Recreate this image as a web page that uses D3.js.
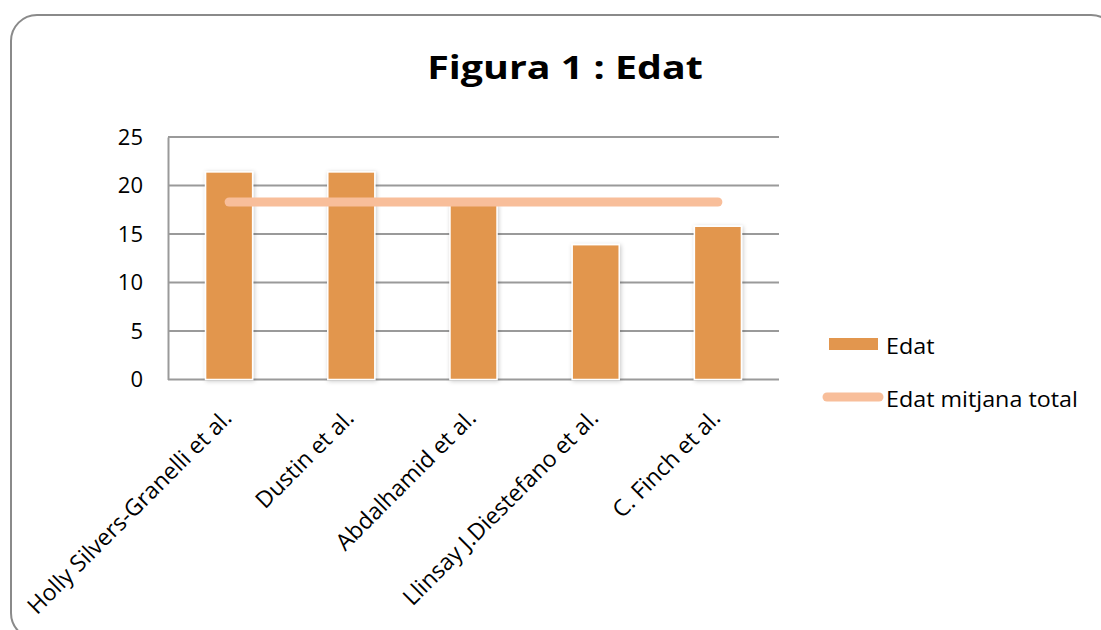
<!DOCTYPE html>
<html>
<head>
<meta charset="utf-8">
<script src="https://cdn.jsdelivr.net/npm/d3@7"></script>
<style>
  html, body { margin: 0; padding: 0; background: #fff; }
  svg { display: block; }
  text { font-family: "Open Sans", Lato, sans-serif; fill: #000; }
</style>
</head>
<body>
<svg id="chart" width="1101" height="630"></svg>
<script>
// Studies and their mean ages
const categories = [
  "Holly Silvers-Granelli et al.",
  "Dustin et al.",
  "Abdalhamid et al.",
  "Llinsay J.Diestefano et al.",
  "C. Finch et al."
];
const edat = [21.4, 21.4, 18.0, 13.9, 15.8];
const edatMitjana = [18.3, 18.3, 18.3, 18.3, 18.3];
const yTicks = [0, 5, 10, 15, 20, 25];
const seriesNames = ["Edat", "Edat mitjana total"];
const title = "Figura 1 : Edat";

const barColor = "#E2964E";
const lineColor = "#F8BE9A";
const gridColor = "#9a9a9a";
const fontFamily = "'Open Sans', Lato, sans-serif";

const svg = d3.select("#chart");

// Outer frame with rounded corners
svg.append("rect")
  .attr("x", 11).attr("y", 15)
  .attr("width", 1106).attr("height", 624)
  .attr("rx", 26).attr("ry", 26)
  .attr("fill", "#fff")
  .attr("stroke", "#8a8a8a")
  .attr("stroke-width", 2);

// Bar shadow
const defs = svg.append("defs");
const f = defs.append("filter").attr("id", "shadow")
  .attr("x", "-30%").attr("y", "-10%").attr("width", "160%").attr("height", "130%");
f.append("feDropShadow").attr("dx", 1).attr("dy", 1).attr("stdDeviation", 2)
  .attr("flood-color", "#000").attr("flood-opacity", 0.22);

const plot = { left: 168, right: 779, top: 137, bottom: 379.5 };

const x = d3.scaleBand()
  .domain(categories)
  .range([plot.left, plot.right])
  .paddingInner(0)
  .paddingOuter(0);

const y = d3.scaleLinear()
  .domain([0, 25])
  .range([plot.bottom, plot.top]);

// Horizontal gridlines
svg.append("g")
  .selectAll("line")
  .data(yTicks)
  .join("line")
  .attr("x1", plot.left).attr("x2", plot.right)
  .attr("y1", d => y(d)).attr("y2", d => y(d))
  .attr("stroke", gridColor)
  .attr("stroke-width", 2);

// Y axis
const yAxis = svg.append("g")
  .attr("transform", `translate(${plot.left},0)`)
  .call(d3.axisLeft(y).tickValues(yTicks).tickSize(0).tickPadding(25));
yAxis.select(".domain").attr("stroke", gridColor).attr("stroke-width", 2);
yAxis.selectAll("text")
  .style("font-family", fontFamily)
  .attr("font-size", 22)
  .attr("fill", "#000");

// Bars
const bw = x.bandwidth() * 0.385;
svg.append("g")
  .selectAll("rect")
  .data(edat)
  .join("rect")
  .attr("x", (d, i) => x(categories[i]) + x.bandwidth() / 2 - bw / 2)
  .attr("y", d => y(d))
  .attr("width", bw)
  .attr("height", d => y(0) - y(d))
  .attr("fill", barColor)
  .attr("stroke", "#fff")
  .attr("stroke-width", 1.5)
  .attr("filter", "url(#shadow)");

// Mean line
const line = d3.line()
  .x((d, i) => x(categories[i]) + x.bandwidth() / 2)
  .y(d => y(d));
svg.append("path")
  .datum(edatMitjana)
  .attr("d", line)
  .attr("fill", "none")
  .attr("stroke", lineColor)
  .attr("stroke-width", 9)
  .attr("stroke-linecap", "round");

// Rotated category labels
svg.append("g")
  .selectAll("text")
  .data(categories)
  .join("text")
  .attr("transform", d => `translate(${x(d) + x.bandwidth() / 2 + 4},${plot.bottom + 40}) rotate(-45)`)
  .attr("text-anchor", "end")
  .attr("font-size", 23)
  .text(d => d);

// Title
svg.append("text")
  .attr("transform", "translate(565,79) scale(1.23,1)")
  .attr("text-anchor", "middle")
  .attr("font-size", 32)
  .attr("font-weight", "bold")
  .text(title);

// Legend
const lg = svg.append("g");
lg.append("rect")
  .attr("x", 829).attr("y", 338)
  .attr("width", 49).attr("height", 12)
  .attr("fill", barColor);
lg.append("text")
  .attr("transform", "translate(886,354) scale(1.06,1)")
  .attr("font-size", 22)
  .text(seriesNames[0]);
lg.append("line")
  .attr("x1", 827).attr("x2", 879)
  .attr("y1", 397).attr("y2", 397)
  .attr("stroke", lineColor)
  .attr("stroke-width", 9)
  .attr("stroke-linecap", "round");
lg.append("text")
  .attr("transform", "translate(886,407) scale(1.06,1)")
  .attr("font-size", 22)
  .text(seriesNames[1]);
</script>
</body>
</html>
